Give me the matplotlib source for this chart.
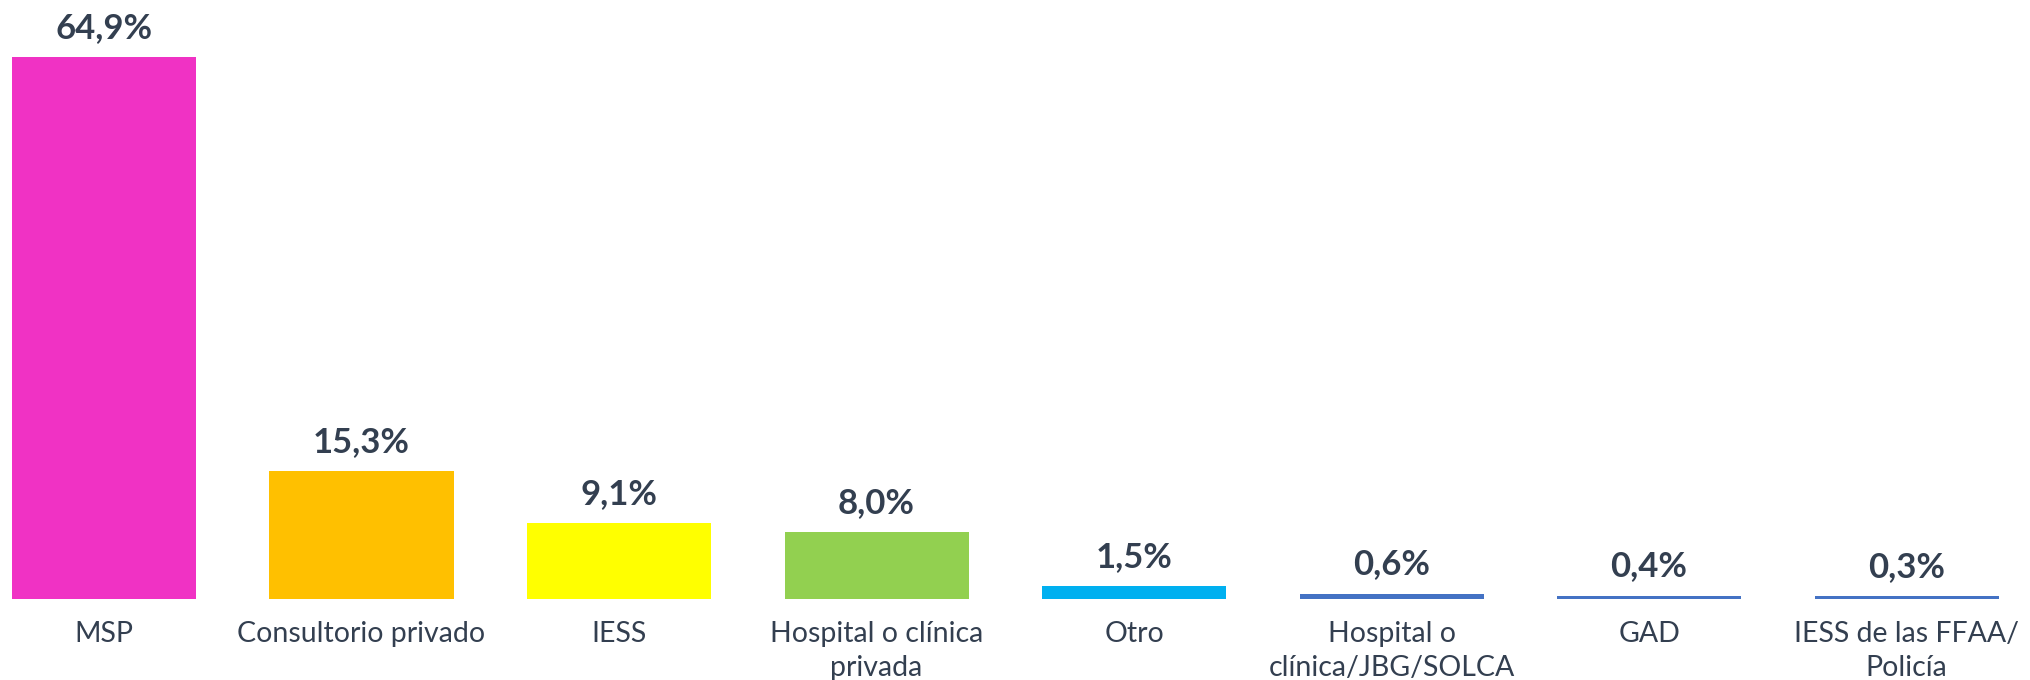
import numpy as np
import matplotlib.pyplot as plt

categorias = ['MSP', 'Consultorio privado', 'IESS', 'Hospital o clínica\nprivada',
              'Otro', 'Hospital o\nclínica/JBG/SOLCA', 'GAD', 'IESS de las FFAA/\nPolicía']
valores = [64.9, 15.3, 9.1, 8.0, 1.5, 0.6, 0.4, 0.3]
colores = ['#F032C4', '#FFC000', '#FFFF00', '#92D050', '#00B0F0',
           '#4472C4', '#4472C4', '#4472C4']

texto = '#333F50'
plt.rcParams['font.family'] = ['Lato', 'DejaVu Sans']

fig = plt.figure(figsize=(20.31, 6.8), dpi=100)
ax = fig.add_axes([0, 81/680, 1, (599-57)/680])

x = np.arange(len(valores))
ax.bar(x, valores, width=0.715, color=colores)
ax.set_xlim(-0.404, 7.483)
ax.set_ylim(0, 64.9)

for xi, v in zip(x, valores):
    ax.annotate(f'{v:.1f}%'.replace('.', ','), (xi, v), xytext=(0, 14),
                textcoords='offset points', ha='center', va='baseline',
                fontsize=25, fontweight='bold', color=texto, annotation_clip=False)

ax.set_xticks(x)
ax.set_xticklabels(categorias, fontsize=20.5, color=texto, linespacing=1.38)
ax.tick_params(axis='x', length=0, pad=16)
ax.set_yticks([])
for s in ax.spines.values():
    s.set_visible(False)

fig.savefig('out.png', dpi=100)
